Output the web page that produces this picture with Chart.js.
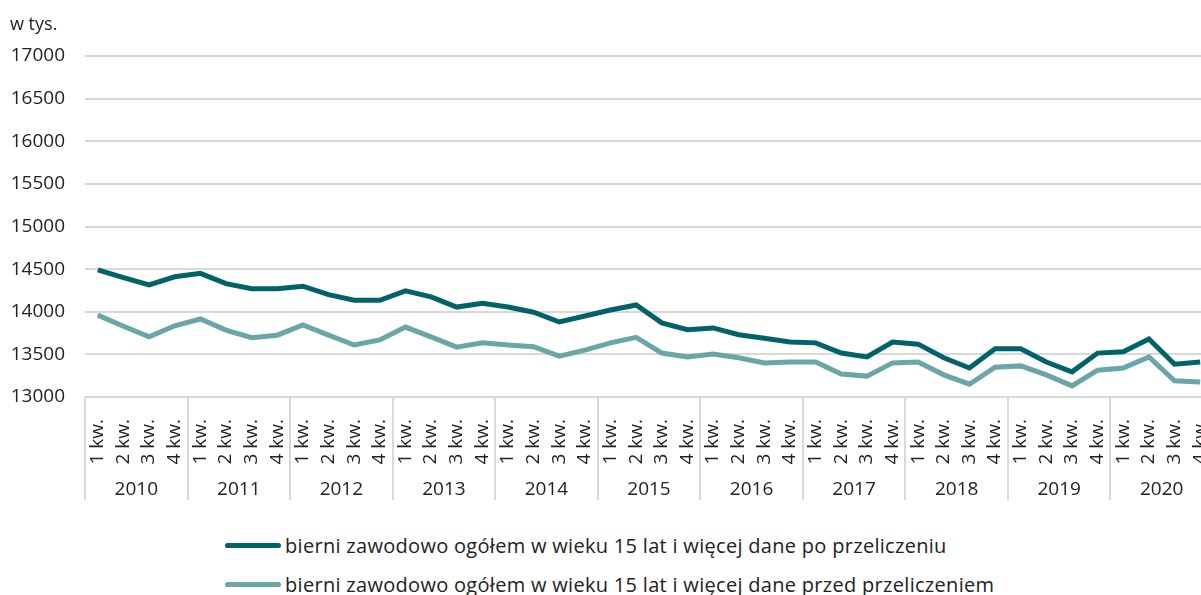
<!DOCTYPE html>
<html>
<head>
<meta charset="utf-8">
<script src="https://cdn.jsdelivr.net/npm/chart.js@4/dist/chart.umd.min.js"></script>
<style>
  body { margin: 0; overflow: hidden; background: #fff; font-family: "Open Sans", sans-serif; }
  #wrap { position: relative; width: 1213px; height: 510px; }
  #legend { position: absolute; left: 225px; top: 526px; color: #222; font-size: 20px; letter-spacing: 0.3px; }
  .row { display: flex; align-items: center; height: 39px; }
  .swatch { width: 56px; height: 5px; border-radius: 3px; margin-right: 4px; }
</style>
</head>
<body>
<div id="wrap"><canvas id="myChart" width="1213" height="510"></canvas></div>
<div id="legend"></div>
<script>
//------------------------- DATA -------------------------

var years = ['2010', '2011', '2012', '2013', '2014', '2015', '2016', '2017', '2018', '2019', '2020'];
var quarters = ['1 kw.', '2 kw.', '3 kw.', '4 kw.'];
var yTicks = [13000, 13500, 14000, 14500, 15000, 15500, 16000, 16500, 17000];

var afterName = 'bierni zawodowo ogółem w wieku 15 lat i więcej dane po przeliczeniu';
var afterValues = [
    14490, 14400, 14315, 14410,   // 2010
    14450, 14330, 14270, 14270,   // 2011
    14300, 14200, 14135, 14135,   // 2012
    14245, 14175, 14055, 14100,   // 2013
    14055, 13995, 13880, 13950,   // 2014
    14020, 14080, 13870, 13790,   // 2015
    13810, 13730, 13690, 13645,   // 2016
    13635, 13515, 13470, 13645,   // 2017
    13620, 13460, 13340, 13565,   // 2018
    13565, 13410, 13295, 13515,   // 2019
    13530, 13680, 13385, 13410    // 2020
];

var beforeName = 'bierni zawodowo ogółem w wieku 15 lat i więcej dane przed przeliczeniem';
var beforeValues = [
    13960, 13830, 13705, 13835,   // 2010
    13915, 13785, 13695, 13725,   // 2011
    13845, 13725, 13610, 13670,   // 2012
    13820, 13705, 13585, 13635,   // 2013
    13610, 13590, 13480, 13550,   // 2014
    13635, 13700, 13515, 13470,   // 2015
    13505, 13460, 13400, 13410,   // 2016
    13410, 13270, 13245, 13400,   // 2017
    13410, 13260, 13150, 13350,   // 2018
    13365, 13260, 13130, 13315,   // 2019
    13340, 13470, 13190, 13175    // 2020
];

//------------------------- LABELS -------------------------

var labels = [];                     // one label per quarter
for (let i = 0; i < years.length; i++) {
    for (let j = 0; j < quarters.length; j++) {
        labels.push(quarters[j]);
    }
}

var gridColor = '#d9d9d9';
var textColor = '#222222';
var font = { family: '"Open Sans", sans-serif', size: 19 };

// unit label + year separators under the axis
var extras = {
    id: 'extras',
    afterDraw(chart) {
        const ctx = chart.ctx;
        const xs = chart.scales.x;
        const area = chart.chartArea;
        ctx.save();
        ctx.fillStyle = textColor;
        ctx.font = '18px "Open Sans", sans-serif';
        ctx.textBaseline = 'middle';
        ctx.fillText('w tys.', 10, 25);
        ctx.strokeStyle = gridColor;
        ctx.lineWidth = 2;
        for (let i = 0; i <= years.length; i++) {
            const k = i * quarters.length;
            const x = Math.round((xs.getPixelForValue(k - 1) + xs.getPixelForValue(k)) / 2);
            ctx.beginPath();
            ctx.moveTo(x, area.bottom);
            ctx.lineTo(x, 500);
            ctx.stroke();
        }
        ctx.restore();
    }
};

var ctx = document.getElementById('myChart').getContext('2d');
var chart = new Chart(ctx, {
    type: 'line',
    data: {
        labels: labels,
        datasets: [{
            label: afterName,
            data: afterValues,
            borderColor: '#00636a',
            borderWidth: 5,
            pointRadius: 0,
            tension: 0
        }, {
            label: beforeName,
            data: beforeValues,
            borderColor: '#6aa5a7',
            borderWidth: 5,
            pointRadius: 0,
            tension: 0
        }]
    },
    options: {
        responsive: false,
        animation: false,
        layout: { padding: { top: 56, left: 0, right: 0, bottom: 0 } },
        plugins: {
            legend: { display: false },
            tooltip: { enabled: false }
        },
        scales: {
            y: {
                min: 13000,
                max: 17000,
                afterBuildTicks(scale) { scale.ticks = yTicks.map(v => ({ value: v })); },
                afterFit(scale) { scale.width = 85; },
                ticks: { color: textColor, font: font, padding: 20, callback: v => String(v) },
                grid: { color: gridColor, lineWidth: 2, drawTicks: false },
                border: { display: false }
            },
            x: {
                offset: true,
                afterFit(scale) {
                    scale.height = 70;
                    scale.paddingLeft = 0;   // the last label is cut by the page edge anyway
                    scale.paddingRight = 0;
                },
                ticks: { color: textColor, font: font, minRotation: 90, maxRotation: 90, autoSkip: false, padding: 14 },
                grid: { display: false },
                border: { display: false }
            },
            year: {
                type: 'category',
                position: 'bottom',
                labels: years,
                offset: true,
                afterFit(scale) { scale.height = 43; },
                ticks: { color: textColor, font: font, padding: 3 },
                grid: { display: false },
                border: { display: false }
            }
        }
    },
    plugins: [extras]
});

//------------------------- LEGEND -------------------------

var legend = document.getElementById('legend');
for (let i = 0; i < chart.data.datasets.length; i++) {
    let row = document.createElement('div');
    row.classList.toggle('row');
    let sw = document.createElement('span');
    sw.classList.toggle('swatch');
    sw.style.background = chart.data.datasets[i].borderColor;
    row.appendChild(sw);
    let txt = document.createElement('span');
    txt.textContent = chart.data.datasets[i].label;
    row.appendChild(txt);
    legend.appendChild(row);
}
</script>
</body>
</html>
